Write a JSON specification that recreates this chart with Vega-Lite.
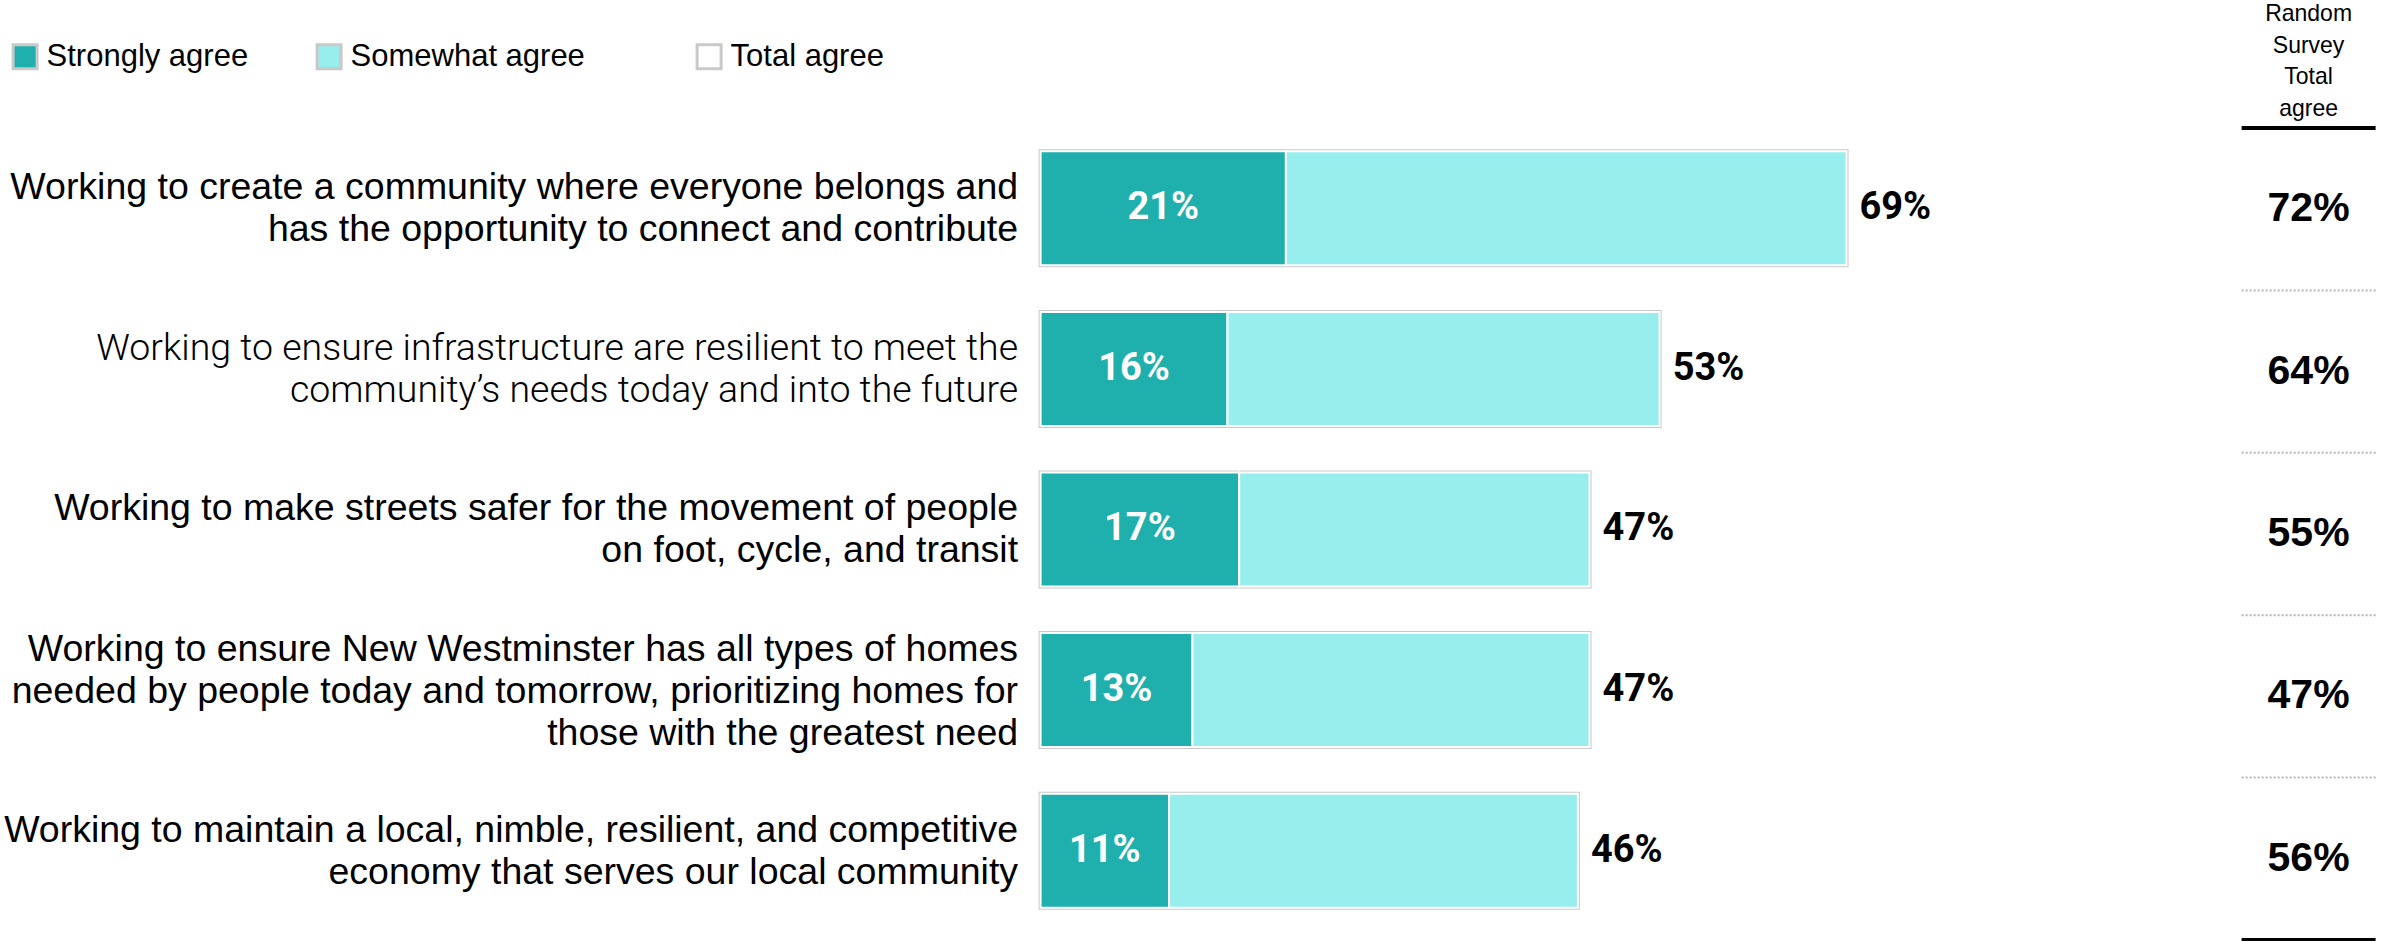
{
  "$schema": "https://vega.github.io/schema/vega-lite/v6.json",
  "padding": {"left": 2.6, "top": 2, "right": 15, "bottom": 0},
  "background": "white",
  "bounds": "flush",
  "spacing": 33,
  "datasets": {
    "totals": [
      {"item": "Working to create a community where everyone belongs and|has the opportunity to connect and contribute", "rank": 1, "total": 0.69, "random": 0.72},
      {"item": "Working to ensure infrastructure are resilient to meet the|community’s needs today and into the future", "rank": 2, "total": 0.53, "random": 0.64},
      {"item": "Working to make streets safer for the movement of people|on foot, cycle, and transit", "rank": 3, "total": 0.47, "random": 0.55},
      {"item": "Working to ensure New Westminster has all types of homes|needed by people today and tomorrow, prioritizing homes for|those with the greatest need", "rank": 4, "total": 0.47, "random": 0.47},
      {"item": "Working to maintain a local, nimble, resilient, and competitive|economy that serves our local community", "rank": 5, "total": 0.46, "random": 0.56}
    ],
    "segments": [
      {"item": "Working to create a community where everyone belongs and|has the opportunity to connect and contribute", "segment": "Strongly agree", "k": 1, "pct": 0.21},
      {"item": "Working to create a community where everyone belongs and|has the opportunity to connect and contribute", "segment": "Somewhat agree", "k": 2, "pct": 0.48},
      {"item": "Working to ensure infrastructure are resilient to meet the|community’s needs today and into the future", "segment": "Strongly agree", "k": 1, "pct": 0.16},
      {"item": "Working to ensure infrastructure are resilient to meet the|community’s needs today and into the future", "segment": "Somewhat agree", "k": 2, "pct": 0.37},
      {"item": "Working to make streets safer for the movement of people|on foot, cycle, and transit", "segment": "Strongly agree", "k": 1, "pct": 0.17},
      {"item": "Working to make streets safer for the movement of people|on foot, cycle, and transit", "segment": "Somewhat agree", "k": 2, "pct": 0.30},
      {"item": "Working to ensure New Westminster has all types of homes|needed by people today and tomorrow, prioritizing homes for|those with the greatest need", "segment": "Strongly agree", "k": 1, "pct": 0.13},
      {"item": "Working to ensure New Westminster has all types of homes|needed by people today and tomorrow, prioritizing homes for|those with the greatest need", "segment": "Somewhat agree", "k": 2, "pct": 0.34},
      {"item": "Working to maintain a local, nimble, resilient, and competitive|economy that serves our local community", "segment": "Strongly agree", "k": 1, "pct": 0.11},
      {"item": "Working to maintain a local, nimble, resilient, and competitive|economy that serves our local community", "segment": "Somewhat agree", "k": 2, "pct": 0.35}
    ]
  },
  "hconcat": [
    {
      "width": 1168,
      "height": 803,
      "encoding": {
        "y": {
          "field": "item",
          "type": "nominal",
          "scale": {
            "domain": [
              "Working to create a community where everyone belongs and|has the opportunity to connect and contribute",
              "Working to ensure infrastructure are resilient to meet the|community’s needs today and into the future",
              "Working to make streets safer for the movement of people|on foot, cycle, and transit",
              "Working to ensure New Westminster has all types of homes|needed by people today and tomorrow, prioritizing homes for|those with the greatest need",
              "Working to maintain a local, nimble, resilient, and competitive|economy that serves our local community"
            ],
            "paddingInner": 0.29,
            "paddingOuter": 0.145
          },
          "axis": {
            "title": null,
            "domain": false,
            "ticks": false,
            "grid": false,
            "labelPadding": 23,
            "labelFontSize": 37.5,
            "labelLineHeight": 42,
            "labelColor": "#000000",
            "labelLimit": 2000,
            "labelFont": {"condition": {"test": "indexof(datum.value, 'infrastructure') >= 0", "value": "Roboto"}, "value": "Liberation Sans"},
            "labelFontWeight": {"condition": {"test": "indexof(datum.value, 'infrastructure') >= 0", "value": 300}, "value": "normal"},
            "labelOffset": {"condition": {"test": "indexof(datum.value, 'Westminster') >= 0", "value": -40}, "value": -20},
            "labelExpr": "split(datum.label, '|')"
          }
        }
      },
      "layer": [
        {
          "data": {"name": "totals"},
          "mark": {"type": "bar", "stroke": "#c9c9c9", "strokeWidth": 4},
          "encoding": {
            "x": {"field": "total", "type": "quantitative", "scale": {"domain": [0, 1]}, "axis": null},
            "color": {
              "datum": "Total agree",
              "type": "nominal",
              "scale": {"domain": ["Strongly agree", "Somewhat agree", "Total agree"], "range": ["#1FAFAD", "#98EEEC", "#FFFFFF"]},
              "legend": {
                "title": null,
                "labelExpr": "datum.label == 'Somewhat agree' ? 'Somewhat agree     \u200b' : datum.label"
              }
            }
          }
        },
        {
          "data": {"name": "segments"},
          "mark": {"type": "bar", "stroke": "#ffffff", "strokeWidth": 2},
          "encoding": {
            "x": {"field": "pct", "type": "quantitative", "stack": "zero", "scale": {"domain": [0, 1]}, "axis": null},
            "color": {
              "field": "segment",
              "type": "nominal",
              "legend": {
                "title": null,
                "labelExpr": "datum.label == 'Somewhat agree' ? 'Somewhat agree     \u200b' : datum.label"
              }
            },
            "order": {"field": "k", "type": "quantitative"}
          }
        },
        {
          "data": {"name": "segments"},
          "transform": [{"filter": "datum.k == 1"}],
          "mark": {"type": "text", "font": "Roboto", "fontWeight": "bold", "fontSize": 38, "color": "#ffffff"},
          "encoding": {
            "x": {"field": "pct", "type": "quantitative", "scale": {"domain": [0, 2]}, "axis": null},
            "text": {"field": "pct", "type": "quantitative", "format": ".0%"}
          }
        },
        {
          "data": {"name": "totals"},
          "mark": {"type": "text", "font": "Roboto", "fontWeight": "bold", "fontSize": 38, "color": "#000000", "align": "left", "dx": 13},
          "encoding": {
            "x": {"field": "total", "type": "quantitative", "scale": {"domain": [0, 1]}, "axis": null},
            "text": {"field": "total", "type": "quantitative", "format": ".0%"}
          }
        }
      ],
      "resolve": {"scale": {"x": "independent"}}
    },
    {
      "width": 134,
      "height": 812,
      "title": {
        "text": ["Random", "Survey", "Total", "agree"],
        "font": "Liberation Sans",
        "fontSize": 23,
        "fontWeight": "normal",
        "lineHeight": 31.7,
        "anchor": "middle",
        "offset": 5,
        "color": "#000000"
      },
      "data": {"name": "totals"},
      "encoding": {
        "y": {
          "field": "item",
          "type": "nominal",
          "scale": {
            "domain": [
              "Working to create a community where everyone belongs and|has the opportunity to connect and contribute",
              "Working to ensure infrastructure are resilient to meet the|community’s needs today and into the future",
              "Working to make streets safer for the movement of people|on foot, cycle, and transit",
              "Working to ensure New Westminster has all types of homes|needed by people today and tomorrow, prioritizing homes for|those with the greatest need",
              "Working to maintain a local, nimble, resilient, and competitive|economy that serves our local community"
            ],
            "padding": 0
          },
          "axis": null
        }
      },
      "layer": [
        {
          "mark": {"type": "text", "font": "Liberation Sans", "fontWeight": "bold", "fontSize": 41, "color": "#000000"},
          "encoding": {
            "text": {"field": "random", "type": "quantitative", "format": ".0%"}
          }
        },
        {
          "transform": [{"filter": "datum.rank < 5"}],
          "mark": {"type": "rule", "color": "#b5b5b5", "strokeWidth": 2, "strokeDash": [2, 2]},
          "encoding": {
            "y": {"field": "item", "type": "nominal", "bandPosition": 1}
          }
        },
        {
          "transform": [{"filter": "datum.rank == 5"}],
          "mark": {"type": "rule", "color": "#000000", "strokeWidth": 4},
          "encoding": {
            "y": {"field": "item", "type": "nominal", "bandPosition": 1}
          }
        },
        {
          "transform": [{"filter": "datum.rank == 1"}],
          "mark": {"type": "rule", "color": "#000000", "strokeWidth": 4},
          "encoding": {
            "y": {"field": "item", "type": "nominal", "bandPosition": 0}
          }
        }
      ]
    }
  ],
  "config": {
    "view": {"stroke": null},
    "font": "Liberation Sans",
    "legend": {
      "orient": "none",
      "direction": "horizontal",
      "legendX": -1031,
      "legendY": -87,
      "symbolType": "square",
      "symbolSize": 576,
      "labelFont": "Liberation Sans",
      "labelFontSize": 31,
      "labelColor": "#000000",
      "labelOffset": 6,
      "columnPadding": 62,
      "labelLimit": 500,
      "symbolStrokeWidth": 3
    }
  }
}
